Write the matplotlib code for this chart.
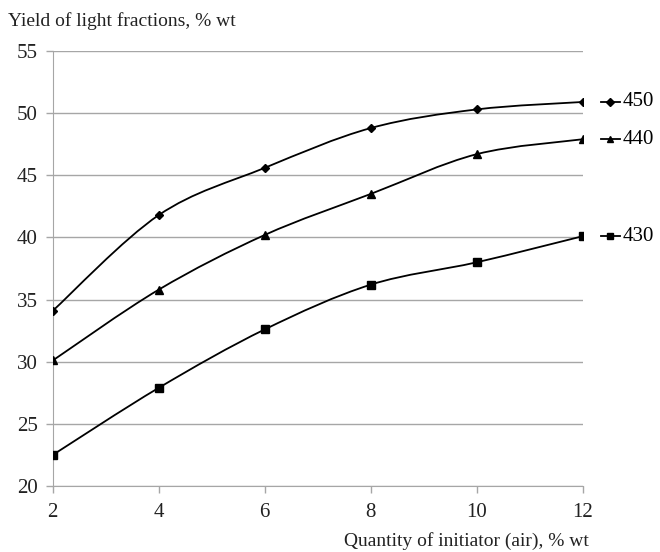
import numpy as np
import matplotlib
matplotlib.use("Agg")
import matplotlib.pyplot as plt
from matplotlib.path import Path
from matplotlib.patches import PathPatch
import matplotlib.transforms as mtransforms

plt.rcParams['font.family'] = ['Liberation Serif', 'DejaVu Serif']

x = [2, 4, 6, 8, 10, 12]
y450 = [34.1, 41.8, 45.6, 48.8, 50.3, 50.9]
y440 = [30.1, 35.8, 40.2, 43.5, 46.7, 47.9]
y430 = [22.5, 27.9, 32.6, 36.2, 38.0, 40.1]
series = [('450', y450, 'D', 4.5), ('440', y440, '^', 6), ('430', y430, 's', 6)]


def smooth_path(xs, ys):
    # excel-style smoothed line: cubic bezier through the points
    xs = np.asarray(xs, float)
    ys = np.asarray(ys, float)
    pts = np.column_stack((xs, ys))
    verts = [pts[0]]
    codes = [Path.MOVETO]
    n = len(pts)
    for i in range(n - 1):
        p0 = pts[i - 1] if i > 0 else pts[i]
        p1 = pts[i]
        p2 = pts[i + 1]
        p3 = pts[i + 2] if i + 2 < n else pts[i + 1]
        c1 = p1 + (p2 - p0) / 6
        c2 = p2 - (p3 - p1) / 6
        verts += [c1, c2, p2]
        codes += [Path.CURVE4] * 3
    return Path(verts, codes)


fig = plt.figure(figsize=(6.6, 5.52), dpi=100)
ax = fig.add_axes([0.080, 0.1196, 0.803, 0.788])

for name, ys, mk, ms in series:
    ax.add_patch(PathPatch(smooth_path(x, ys), fill=False, lw=1.3, color='black', zorder=3))
    ax.plot(x, ys, ls='none', marker=mk, ms=ms, color='black', zorder=4)
    # legend entry next to the end of each line
    tr = mtransforms.blended_transform_factory(ax.transAxes, ax.transData)
    ax.plot([1.034, 1.070], [ys[-1], ys[-1]], color='black', lw=1.3, transform=tr, clip_on=False)
    ax.plot([1.052], [ys[-1]], marker=mk, ms=ms * 0.8, color='black', transform=tr, clip_on=False)
    ax.text(1.075, ys[-1], name, transform=tr, va='center', ha='left', fontsize=15)

ax.set_xlim(2, 12)
ax.set_ylim(20, 55)
ax.set_xticks(x)
ax.set_yticks(range(20, 56, 5))
ax.yaxis.grid(True, color='#a6a6a6', lw=1.0)
ax.set_axisbelow(True)
for s in ['top', 'right']:
    ax.spines[s].set_visible(False)
for s in ['left', 'bottom']:
    ax.spines[s].set_color('#a6a6a6')
ax.tick_params(axis='both', colors='#a6a6a6', labelcolor='#222222', labelsize=15, length=5, width=1.0)
ax.tick_params(axis='x', pad=7)
ax.tick_params(axis='y', pad=6)

fig.text(0.012, 0.962, 'Yield of light fractions, % wt', fontsize=14, ha='left', va='center', color='#222222')
fig.text(0.892, 0.020, 'Quantity of initiator (air), % wt', fontsize=14, ha='right', va='center', color='#222222')

fig.savefig('out.png', dpi=100)
